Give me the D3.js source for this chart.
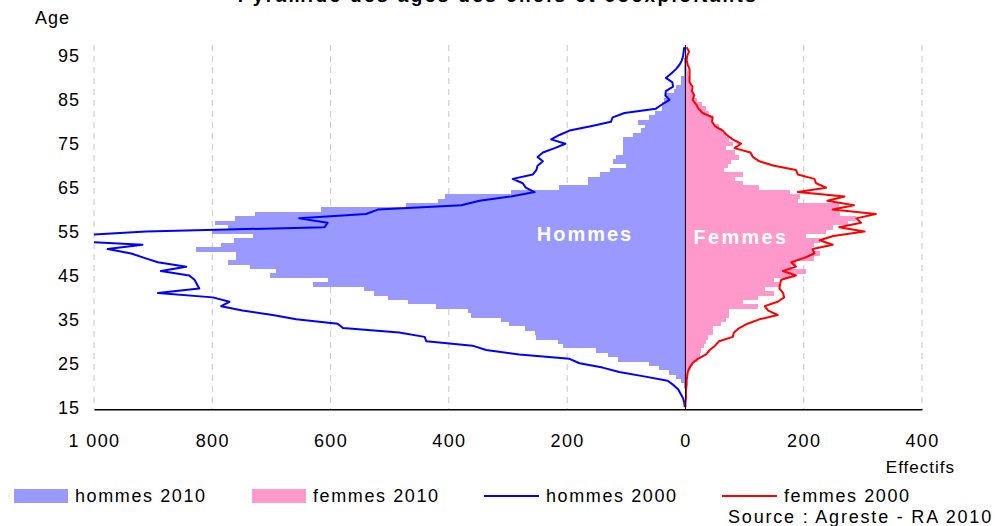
<!DOCTYPE html>
<html>
<head>
<meta charset="utf-8">
<script src="https://cdn.jsdelivr.net/npm/d3@7"></script>
<style>
  body { margin: 0; background: #fff; }
  text { font-family: "Liberation Sans", Arial, sans-serif; fill: #000; }
</style>
</head>
<body>
<svg id="chart" width="996" height="526"></svg>
<script>
// age categories (15 .. 97)
const ages = d3.range(15, 98);
const ageTicks = [15, 25, 35, 45, 55, 65, 75, 85, 95];
const effTicks = [-1000, -800, -600, -400, -200, 0, 200, 400];

// headcounts per age
const hommes2010 = [
  0, 0, 0, 0, 1, 3, 7, 16, 27, 44,
  61, 114, 131, 151, 207, 216, 252, 255, 272, 298,
  312, 362, 368, 422, 469, 503, 527, 544, 629, 605,
  703, 693, 737, 774, 760, 760, 828, 785, 764, 732,
  800, 774, 795, 761, 727, 616, 473, 419, 406, 295,
  213, 165, 165, 145, 128, 100, 122, 117, 105, 105,
  105, 105, 89, 75, 68, 81, 61, 51, 39, 39,
  36, 33, 19, 16, 7, 7, 3, 3, 2, 2,
  1, 1, 1
];
const femmes2010 = [
  0, 0, 0, 1, 1, 1, 2, 3, 5, 9,
  12, 21, 24, 27, 32, 35, 38, 46, 46, 60,
  69, 74, 74, 122, 97, 122, 150, 134, 159, 150,
  176, 204, 179, 187, 218, 227, 214, 218, 227, 204,
  238, 250, 275, 289, 262, 260, 260, 190, 193, 176,
  125, 97, 83, 97, 66, 72, 77, 91, 83, 69,
  80, 74, 68, 62, 57, 46, 46, 40, 35, 28,
  20, 14, 12, 10, 8, 6, 4, 3, 3, 2,
  1, 1, 1
];
const hommes2000 = [
  1, 2, 4, 8, 12, 20, 30, 70, 112, 140,
  179, 196, 281, 337, 360, 438, 441, 484, 579, 588,
  658, 698, 749, 785, 771, 799, 892, 822, 826, 830,
  839, 887, 844, 892, 915, 937, 977, 918, 1060, 1040,
  912, 610, 605, 653, 540, 520, 379, 348, 295, 255,
  270, 275, 292, 258, 252, 250, 241, 250, 241, 221,
  203, 227, 213, 196, 160, 126, 123, 103, 50, 39,
  27, 34, 33, 21, 22, 33, 24, 16, 10, 6,
  4, 3, 2
];
const femmes2000 = [
  0, 0, 1, 1, 1, 2, 2, 3, 4, 7,
  12, 21, 35, 41, 50, 57, 80, 82, 91, 105,
  125, 156, 140, 134, 156, 167, 165, 159, 160, 162,
  187, 165, 187, 179, 201, 218, 215, 249, 227, 250,
  303, 260, 297, 289, 322, 249, 285, 240, 269, 190,
  238, 221, 218, 190, 187, 150, 125, 114, 110, 83,
  94, 80, 70, 63, 50, 45, 46, 29, 22, 18,
  12, 15, 11, 12, 7, 7, 7, 7, 4, 2,
  3, 6, 2
];

const legendItems = [
  {label: "hommes 2010", type: "rect", color: "#9999ff"},
  {label: "femmes 2010", type: "rect", color: "#ff99cc"},
  {label: "hommes 2000", type: "line", color: "#0000ff"},
  {label: "femmes 2000", type: "line", color: "#ff0000"}
];

const svg = d3.select("#chart");
const plot = {left: 94, right: 922, top: 45, bottom: 409.3};

const x = d3.scaleLinear().domain([-1000, 400]).range([plot.left, plot.right]);
const y = d3.scaleBand().domain(ages).range([plot.bottom, plot.top]).padding(0);
const bw = y.bandwidth();

const fmt = d => {
  const v = Math.abs(d);
  return v >= 1000 ? d3.format(",")(v).replace(",", " ") : String(v);
};

// clip for the lines which run off the left edge
svg.append("defs").append("clipPath").attr("id", "plotClip")
  .append("rect")
  .attr("x", plot.left).attr("y", plot.top - 2)
  .attr("width", plot.right - plot.left).attr("height", plot.bottom - plot.top + 4);

// dashed vertical grid
svg.append("g")
  .selectAll("line")
  .data(effTicks.filter(d => d !== 0))
  .join("line")
  .attr("x1", d => x(d)).attr("x2", d => x(d))
  .attr("y1", plot.top).attr("y2", plot.bottom)
  .attr("stroke", "#c6c6c6")
  .attr("stroke-width", 1)
  .attr("stroke-dasharray", "6,5");

// bars 2010
const bars = svg.append("g").attr("shape-rendering", "crispEdges");
bars.selectAll("rect.h")
  .data(ages)
  .join("rect")
  .attr("class", "h")
  .attr("x", (a, i) => x(-hommes2010[i]))
  .attr("width", (a, i) => x(0) - x(-hommes2010[i]))
  .attr("y", a => y(a))
  .attr("height", bw + 0.5)
  .attr("fill", "#9999ff");

bars.selectAll("rect.f")
  .data(ages)
  .join("rect")
  .attr("class", "f")
  .attr("x", x(0))
  .attr("width", (a, i) => x(femmes2010[i]) - x(0))
  .attr("y", a => y(a))
  .attr("height", bw + 0.5)
  .attr("fill", "#ff99cc");

// labels inside bars
svg.append("text")
  .attr("x", 585).attr("y", 241)
  .attr("text-anchor", "middle")
  .style("font-weight", "bold").style("font-size", "20px")
  .style("letter-spacing", "2px")
  .style("fill", "#fff")
  .text("Hommes");
svg.append("text")
  .attr("x", 741).attr("y", 244)
  .attr("text-anchor", "middle")
  .style("font-weight", "bold").style("font-size", "20px")
  .style("letter-spacing", "2.3px")
  .style("fill", "#fff")
  .text("Femmes");

// lines 2000
const lineH = d3.line()
  .x((a, i) => x(-hommes2000[i]))
  .y(a => y(a) + bw / 2);
const lineF = d3.line()
  .x((a, i) => x(femmes2000[i]))
  .y(a => y(a) + bw / 2);

const lines = svg.append("g").attr("clip-path", "url(#plotClip)");
lines.append("path")
  .datum(ages)
  .attr("d", lineH)
  .attr("fill", "none")
  .attr("stroke", "#0000ff")
  .attr("stroke-width", 2)
  .attr("stroke-linejoin", "round");
lines.append("path")
  .datum(ages)
  .attr("d", lineF)
  .attr("fill", "none")
  .attr("stroke", "#ff0000")
  .attr("stroke-width", 2)
  .attr("stroke-linejoin", "round");

// zero line
svg.append("line")
  .attr("x1", x(0)).attr("x2", x(0))
  .attr("y1", plot.top).attr("y2", plot.bottom)
  .attr("stroke", "#000").attr("stroke-width", 1);

// x axis
const xAxis = d3.axisBottom(x)
  .tickValues(effTicks)
  .tickFormat(fmt)
  .tickSize(0)
  .tickSizeOuter(0)
  .tickPadding(25);
const gx = svg.append("g")
  .attr("transform", `translate(0,${plot.bottom})`)
  .call(xAxis);
gx.select(".domain").attr("stroke", "#000").attr("stroke-width", 1.5);
gx.selectAll("text")
  .style("font-family", "\"Liberation Sans\", Arial, sans-serif")
  .style("font-size", "18px")
  .style("letter-spacing", "1.4px")
  .attr("fill", "#000");

// y labels (ages)
svg.append("g")
  .selectAll("text")
  .data(ageTicks)
  .join("text")
  .attr("x", 80)
  .attr("y", a => y(a) + bw / 2)
  .attr("dy", "0.36em")
  .attr("text-anchor", "end")
  .style("font-size", "18px")
  .style("letter-spacing", "1px")
  .text(a => a);

svg.append("text")
  .attr("x", 35).attr("y", 24)
  .style("font-size", "18px")
  .style("letter-spacing", "1px")
  .text("Age");

svg.append("text")
  .attr("x", 955).attr("y", 473)
  .attr("text-anchor", "end")
  .style("font-size", "17px")
  .style("letter-spacing", "1px")
  .text("Effectifs");

// title (cut off at the top edge, as in the source picture)
svg.append("text")
  .attr("x", 498).attr("y", 2)
  .attr("text-anchor", "middle")
  .style("font-weight", "bold")
  .style("font-size", "19px")
  .style("letter-spacing", "2.4px")
  .text("Pyramide des âges des chefs et coexploitants");

// legend
const legendX = [14, 252, 484, 722];
const leg = svg.append("g");
legendItems.forEach((d, i) => {
  const g = leg.append("g").attr("transform", `translate(${legendX[i]},496)`);
  if (d.type === "rect") {
    g.append("rect").attr("x", 0).attr("y", -7).attr("width", 54).attr("height", 14)
      .attr("fill", d.color);
  } else {
    g.append("line").attr("x1", 0).attr("x2", 55).attr("y1", 0).attr("y2", 0)
      .attr("stroke", d.color).attr("stroke-width", 2);
  }
  g.append("text")
    .attr("x", i < 2 ? 61 : 62).attr("y", 0).attr("dy", "0.36em")
    .style("font-size", "18px")
    .style("letter-spacing", "1.6px")
    .text(d.label);
});

svg.append("text")
  .attr("x", 993).attr("y", 523)
  .attr("text-anchor", "end")
  .style("font-size", "18px")
  .style("letter-spacing", "1.8px")
  .text("Source : Agreste - RA 2010");
</script>
</body>
</html>
